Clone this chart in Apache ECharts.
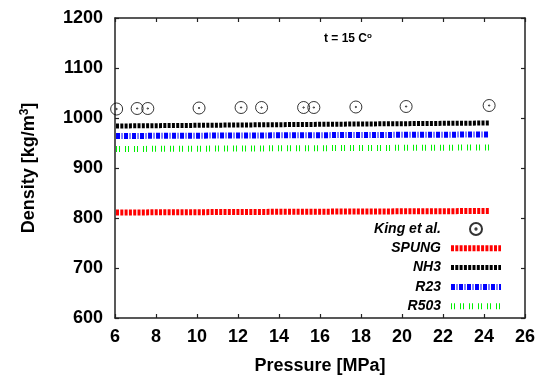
<!DOCTYPE html>
<html>
<head>
<meta charset="utf-8">
<script src="https://cdn.jsdelivr.net/npm/echarts@6/dist/echarts.min.js"></script>
<style>
  html, body { margin: 0; padding: 0; background: #fff; }
  #chart { width: 540px; height: 381px; }
</style>
</head>
<body>
<div id="chart"></div>
<script>
// measured data, King et al.
const kingData = [
  [6.08, 1018], [7.08, 1019], [7.6, 1019], [10.1, 1020], [12.15, 1021],
  [13.15, 1021], [15.2, 1021], [15.7, 1021], [17.75, 1022], [20.2, 1023], [24.25, 1025]
]
// model curves
const spungData = [[6.05, 811], [12, 812], [18, 813], [24.25, 814]]
const nh3Data = [[6.05, 984], [12, 986], [18, 988], [24.25, 990]]
const r23Data = [[6.05, 964], [12, 965], [18, 966], [24.25, 967]]
const r503Data = [[6.05, 938], [12, 939], [18, 940], [24.25, 941]]

const font = 'Liberation Sans, Arial, sans-serif'
const ringDot = 'path://M0,-5.5A5.5,5.5 0 1,1 0,5.5A5.5,5.5 0 1,1 0,-5.5ZM0,-0.6A0.6,0.6 0 1,1 0,0.6A0.6,0.6 0 1,1 0,-0.6Z'

// line styles per series (legend uses the same)
const styles = {
  'SPUNG': { color: '#ff0000', width: 6, type: [3, 1.3] },
  'NH3': { color: '#000000', width: 5, type: [3, 1.3] },
  'R23': { color: '#0000ff', width: 6, type: [4, 1.5, 1, 1.5] },
  'R503': { color: '#00ee00', width: 6, type: [1, 2, 1, 5] }
}

const axisLine = { show: true, lineStyle: { color: '#222', width: 1.5 } }
const tick = { show: true, inside: true, length: 4, lineStyle: { color: '#222', width: 1.2 } }

const chart = echarts.init(document.getElementById('chart'))

function curve(name, data) {
  const s = styles[name]
  return {
    name: name,
    type: 'line',
    data: data,
    showSymbol: false,
    symbol: 'none',
    color: s.color,
    lineStyle: { color: s.color, width: s.width, type: s.type, cap: 'butt' },
    silent: true
  }
}

function legendItem(name) {
  const s = styles[name]
  return {
    name: name,
    itemStyle: { color: 'rgba(0,0,0,0)', borderWidth: 0 },
    lineStyle: { color: s.color, width: s.width, type: s.type, cap: 'butt' }
  }
}

chart.setOption({
  animation: false,
  title: {
    text: '{a|t = 15 C}{b|o}',
    left: 319,
    top: 27,
    textStyle: {
      rich: {
        a: { fontFamily: font, fontWeight: 'bold', fontSize: 12, color: '#000' },
        b: { fontFamily: font, fontWeight: 'bold', fontSize: 8, color: '#000', verticalAlign: 'top', padding: [0, 0, 6, 0] }
      }
    }
  },
  legend: {
    data: ['King et al.', legendItem('SPUNG'), legendItem('NH3'), legendItem('R23'), legendItem('R503')],
    orient: 'vertical',
    align: 'right',
    right: 31,
    top: 217,
    itemWidth: 50,
    itemHeight: 12,
    itemGap: 5.3,
    selectedMode: false,
    textStyle: { fontFamily: font, fontWeight: 'bold', fontStyle: 'italic', fontSize: 14, color: '#000', padding: [0, 5, 0, 0] }
  },
  grid: { left: 115, right: 15, top: 18, bottom: 63, containLabel: false },
  xAxis: [{
    type: 'value',
    min: 6,
    max: 26,
    interval: 2,
    name: 'Pressure [MPa]',
    nameLocation: 'middle',
    nameGap: 39,
    nameTextStyle: { fontFamily: font, fontWeight: 'bold', fontSize: 18, color: '#000' },
    axisLine: axisLine,
    axisTick: tick,
    axisLabel: { fontFamily: font, fontWeight: 'bold', fontSize: 18, color: '#000', margin: 10 },
    splitLine: { show: false }
  }, {
    type: 'value',
    position: 'top',
    min: 6,
    max: 26,
    interval: 2,
    axisLine: axisLine,
    axisTick: tick,
    axisLabel: { show: false },
    splitLine: { show: false }
  }],
  yAxis: [{
    type: 'value',
    min: 600,
    max: 1200,
    interval: 100,
    name: 'Density [kg/m{sup|3}]',
    nameLocation: 'middle',
    nameGap: 76,
    nameRotate: 90,
    nameTextStyle: {
      fontFamily: font, fontWeight: 'bold', fontSize: 18, color: '#000',
      rich: {
        sup: { fontFamily: font, fontWeight: 'bold', fontSize: 12, color: '#000', verticalAlign: 'top', padding: [0, 0, 8, 0] }
      }
    },
    axisLine: axisLine,
    axisTick: tick,
    axisLabel: { fontFamily: font, fontWeight: 'bold', fontSize: 18, color: '#000', margin: 12, formatter: v => String(v) },
    splitLine: { show: false }
  }, {
    type: 'value',
    position: 'right',
    min: 600,
    max: 1200,
    interval: 100,
    axisLine: axisLine,
    axisTick: tick,
    axisLabel: { show: false },
    splitLine: { show: false }
  }],
  series: [
    {
      name: 'King et al.',
      type: 'scatter',
      data: kingData,
      symbol: ringDot,
      symbolSize: 12,
      itemStyle: { color: 'rgba(0,0,0,0)', borderColor: '#000', borderWidth: 1 },
      silent: true
    },
    curve('SPUNG', spungData),
    curve('NH3', nh3Data),
    curve('R23', r23Data),
    curve('R503', r503Data)
  ]
})
</script>
</body>
</html>
